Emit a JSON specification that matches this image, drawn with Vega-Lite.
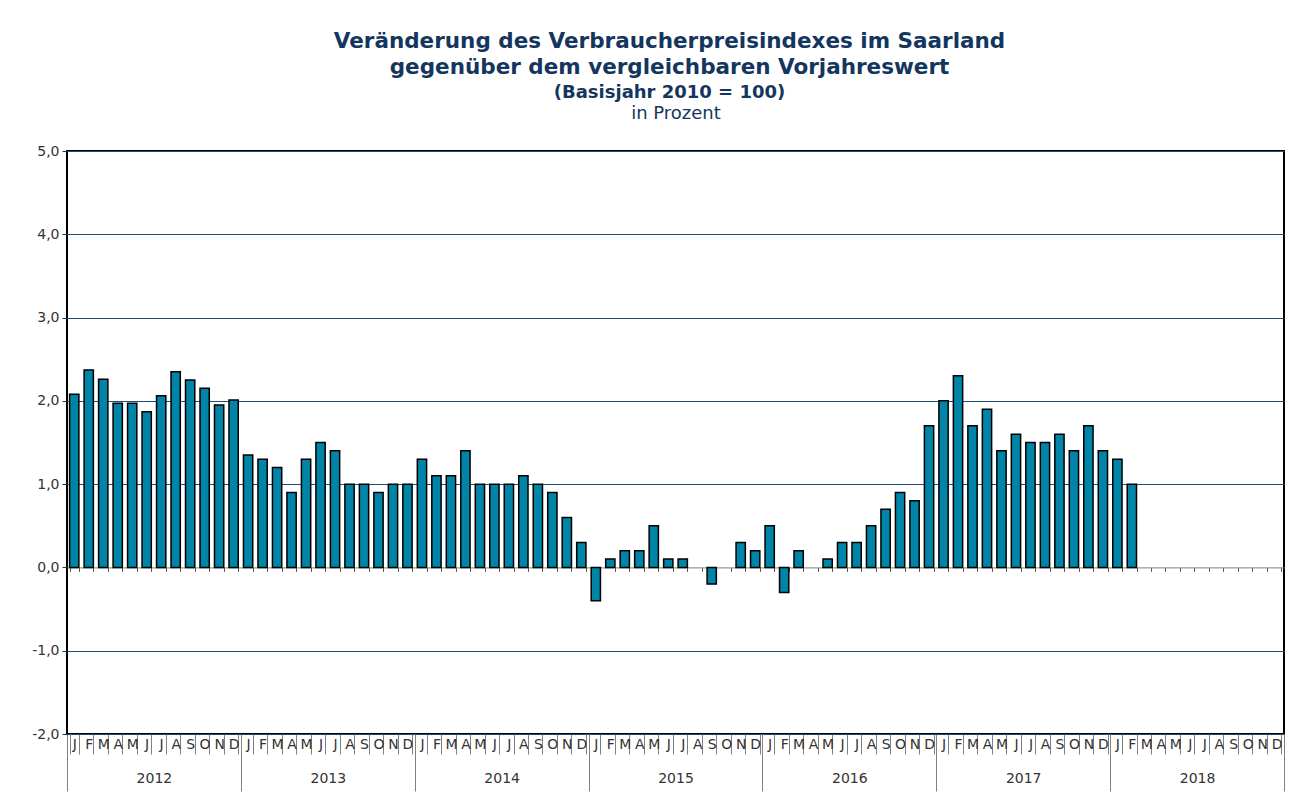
{
  "$schema": "https://vega.github.io/schema/vega-lite/v6.json",
  "width": 1217,
  "height": 583,
  "padding": {"left": 31, "top": 30, "right": 10, "bottom": 5},
  "background": "white",
  "title": {
    "text": ["Veränderung des Verbraucherpreisindexes im Saarland", "gegenüber dem vergleichbaren Vorjahreswert"],
    "subtitle": "(Basisjahr 2010 = 100)",
    "anchor": "middle",
    "dx": -6,
    "font": "DejaVu Sans",
    "fontSize": 21.5,
    "fontWeight": "bold",
    "lineHeight": 26,
    "color": "#14365e",
    "subtitleFont": "DejaVu Sans",
    "subtitleFontSize": 18,
    "subtitleFontWeight": "bold",
    "subtitleColor": "#14365e",
    "subtitlePadding": 6,
    "offset": 2
  },
  "datasets": {
    "vpi": [
      {"m": "2012-01", "v": 2.08}, {"m": "2012-02", "v": 2.37}, {"m": "2012-03", "v": 2.26}, {"m": "2012-04", "v": 1.97},
      {"m": "2012-05", "v": 1.97}, {"m": "2012-06", "v": 1.87}, {"m": "2012-07", "v": 2.06}, {"m": "2012-08", "v": 2.35},
      {"m": "2012-09", "v": 2.25}, {"m": "2012-10", "v": 2.15}, {"m": "2012-11", "v": 1.95}, {"m": "2012-12", "v": 2.01},
      {"m": "2013-01", "v": 1.35}, {"m": "2013-02", "v": 1.3}, {"m": "2013-03", "v": 1.2}, {"m": "2013-04", "v": 0.9},
      {"m": "2013-05", "v": 1.3}, {"m": "2013-06", "v": 1.5}, {"m": "2013-07", "v": 1.4}, {"m": "2013-08", "v": 1.0},
      {"m": "2013-09", "v": 1.0}, {"m": "2013-10", "v": 0.9}, {"m": "2013-11", "v": 1.0}, {"m": "2013-12", "v": 1.0},
      {"m": "2014-01", "v": 1.3}, {"m": "2014-02", "v": 1.1}, {"m": "2014-03", "v": 1.1}, {"m": "2014-04", "v": 1.4},
      {"m": "2014-05", "v": 1.0}, {"m": "2014-06", "v": 1.0}, {"m": "2014-07", "v": 1.0}, {"m": "2014-08", "v": 1.1},
      {"m": "2014-09", "v": 1.0}, {"m": "2014-10", "v": 0.9}, {"m": "2014-11", "v": 0.6}, {"m": "2014-12", "v": 0.3},
      {"m": "2015-01", "v": -0.4}, {"m": "2015-02", "v": 0.1}, {"m": "2015-03", "v": 0.2}, {"m": "2015-04", "v": 0.2},
      {"m": "2015-05", "v": 0.5}, {"m": "2015-06", "v": 0.1}, {"m": "2015-07", "v": 0.1}, {"m": "2015-08", "v": 0.0},
      {"m": "2015-09", "v": -0.2}, {"m": "2015-10", "v": 0.0}, {"m": "2015-11", "v": 0.3}, {"m": "2015-12", "v": 0.2},
      {"m": "2016-01", "v": 0.5}, {"m": "2016-02", "v": -0.3}, {"m": "2016-03", "v": 0.2}, {"m": "2016-04", "v": 0.0},
      {"m": "2016-05", "v": 0.1}, {"m": "2016-06", "v": 0.3}, {"m": "2016-07", "v": 0.3}, {"m": "2016-08", "v": 0.5},
      {"m": "2016-09", "v": 0.7}, {"m": "2016-10", "v": 0.9}, {"m": "2016-11", "v": 0.8}, {"m": "2016-12", "v": 1.7},
      {"m": "2017-01", "v": 2.0}, {"m": "2017-02", "v": 2.3}, {"m": "2017-03", "v": 1.7}, {"m": "2017-04", "v": 1.9},
      {"m": "2017-05", "v": 1.4}, {"m": "2017-06", "v": 1.6}, {"m": "2017-07", "v": 1.5}, {"m": "2017-08", "v": 1.5},
      {"m": "2017-09", "v": 1.6}, {"m": "2017-10", "v": 1.4}, {"m": "2017-11", "v": 1.7}, {"m": "2017-12", "v": 1.4},
      {"m": "2018-01", "v": 1.3}, {"m": "2018-02", "v": 1.0}, {"m": "2018-03", "v": null}, {"m": "2018-04", "v": null},
      {"m": "2018-05", "v": null}, {"m": "2018-06", "v": null}, {"m": "2018-07", "v": null}, {"m": "2018-08", "v": null},
      {"m": "2018-09", "v": null}, {"m": "2018-10", "v": null}, {"m": "2018-11", "v": null}, {"m": "2018-12", "v": null}
    ],
    "years": [
      {"year": "2012"}, {"year": "2013"}, {"year": "2014"}, {"year": "2015"}, {"year": "2016"}, {"year": "2017"}, {"year": "2018"}
    ]
  },
  "layer": [
    {
      "data": {"name": "vpi"},
      "mark": {"type": "bar", "color": "#0085a8", "stroke": "#000", "strokeWidth": 1.5},
      "encoding": {
        "x": {
          "field": "m", "type": "nominal", "sort": null,
          "scale": {
            "paddingInner": 0.36, "paddingOuter": 0.18,
            "domain": ["2012-01","2012-02","2012-03","2012-04","2012-05","2012-06","2012-07","2012-08","2012-09","2012-10","2012-11","2012-12",
                       "2013-01","2013-02","2013-03","2013-04","2013-05","2013-06","2013-07","2013-08","2013-09","2013-10","2013-11","2013-12",
                       "2014-01","2014-02","2014-03","2014-04","2014-05","2014-06","2014-07","2014-08","2014-09","2014-10","2014-11","2014-12",
                       "2015-01","2015-02","2015-03","2015-04","2015-05","2015-06","2015-07","2015-08","2015-09","2015-10","2015-11","2015-12",
                       "2016-01","2016-02","2016-03","2016-04","2016-05","2016-06","2016-07","2016-08","2016-09","2016-10","2016-11","2016-12",
                       "2017-01","2017-02","2017-03","2017-04","2017-05","2017-06","2017-07","2017-08","2017-09","2017-10","2017-11","2017-12",
                       "2018-01","2018-02","2018-03","2018-04","2018-05","2018-06","2018-07","2018-08","2018-09","2018-10","2018-11","2018-12"]
          },
          "axis": {
            "orient": "bottom", "title": null, "domain": false,
            "tickBand": "extent", "tickSize": 20, "tickColor": "#808080", "tickWidth": 1,
            "labelExpr": "['J','F','M','A','M','J','J','A','S','O','N','D'][toNumber(substring(datum.value,5,7))-1]",
            "labelAngle": 0, "labelPadding": -17, "labelOverlap": false, "labelFontSize": 14,
            "labelColor": "#333", "labelFont": "DejaVu Sans"
          }
        },
        "y": {
          "field": "v", "type": "quantitative",
          "scale": {"domain": [-2, 5], "nice": false, "zero": false},
          "axis": {
            "title": null, "values": [-2, -1, 0, 1, 2, 3, 4, 5],
            "labelExpr": "(datum.value < 0 ? '-' : '') + replace(format(abs(datum.value), '.1f'), '.', ',')",
            "grid": true,
            "gridColor": {"condition": {"test": "datum.value === 0", "value": "transparent"}, "value": "#1f4e79"},
            "gridWidth": 1,
            "domain": false, "tickSize": 5, "tickColor": "#333", "labelPadding": 3,
            "labelFontSize": 14, "labelColor": "#333", "labelFont": "DejaVu Sans"
          }
        },
        "strokeOpacity": {"condition": {"test": "datum.v === 0", "value": 0}, "value": 1}
      }
    },
    {
      "data": {"name": "years"},
      "mark": {"type": "rule", "opacity": 0},
      "encoding": {
        "x": {
          "field": "year", "type": "nominal", "sort": null,
          "scale": {"paddingInner": 0, "paddingOuter": 0},
          "axis": {
            "orient": "bottom", "title": null, "domain": false,
            "tickBand": "extent", "tickSize": 57, "tickColor": "#808080", "tickWidth": 1,
            "labelAngle": 0, "labelPadding": -20, "labelFontSize": 14,
            "labelColor": "#333", "labelFont": "DejaVu Sans"
          }
        }
      }
    },
    {
      "data": {"name": "vpi"},
      "mark": {"type": "rule", "opacity": 0},
      "encoding": {
        "x": {
          "field": "m", "type": "nominal", "sort": null,
          "scale": {"paddingInner": 0.36, "paddingOuter": 0.18},
          "axis": {
            "orient": "bottom", "title": null, "offset": -166.6,
            "domain": true, "domainColor": "#808080", "domainWidth": 1,
            "tickBand": "extent", "tickSize": 4, "tickColor": "#555", "tickWidth": 1,
            "labels": false
          }
        }
      }
    },
    {
      "data": {"name": "years"},
      "mark": {"type": "rule", "opacity": 0},
      "encoding": {
        "x": {
          "field": "year", "type": "nominal",
          "axis": {
            "orient": "top", "title": "in Prozent", "domain": false, "ticks": false, "labels": false,
            "titleFont": "DejaVu Sans", "titleFontSize": 18, "titleFontWeight": "normal",
            "titleColor": "#14365e", "titlePadding": 29
          }
        }
      }
    }
  ],
  "resolve": {"scale": {"x": "independent"}, "axis": {"x": "independent"}},
  "config": {
    "font": "DejaVu Sans",
    "view": {"stroke": "#000", "strokeWidth": 2}
  }
}
